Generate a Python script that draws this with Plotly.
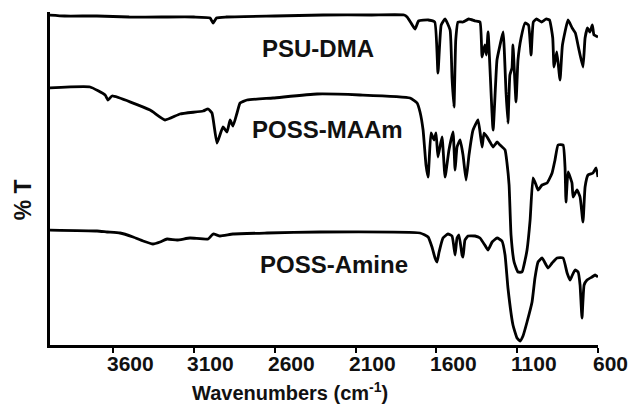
import plotly.graph_objects as go

# Wavenumbers (cm-1) and %T (arbitrary offset units)
psu_wn = [4000, 3900, 3700, 3500, 3300, 3100, 3000, 2981, 2960, 2900, 2600, 2300, 2000, 1800,
          1781, 1760, 1732, 1710, 1650, 1610, 1590, 1570, 1546, 1515, 1503, 1491, 1480, 1466,
          1435, 1400, 1360, 1330, 1317, 1300, 1290, 1280, 1249, 1225, 1206, 1187, 1169, 1157,
          1145, 1132, 1126, 1107, 1095, 1076, 1051, 1030, 1014, 1000, 980, 950, 920, 900, 880,
          872, 855, 835, 820, 785, 760, 740, 720, 693, 680, 665, 650, 635, 625, 612, 600]
psu_t = [330, 329, 329, 328, 328, 328, 327, 322, 327, 328, 329, 330, 330, 330,
         328, 323, 316, 324, 325, 323, 272, 320, 326, 315, 267, 238, 305, 323,
         323, 326, 324, 323, 288, 300, 290, 313, 215, 285, 300, 313, 253, 222,
         270, 277, 300, 243, 285, 307, 322, 320, 290, 323, 326, 323, 326, 325, 307,
         278, 293, 265, 300, 325, 317, 312, 297, 278, 307, 317, 313, 320, 310, 309, 308]

maam_wn = [4000, 3742, 3649, 3631, 3606, 3371, 3278, 3186, 3043, 3012, 2988, 2957, 2920, 2895,
           2876, 2858, 2833, 2814, 2771, 2610, 2338, 2072, 1763, 1719, 1701, 1682, 1664, 1651,
           1633, 1614, 1602, 1590, 1565, 1546, 1522, 1497, 1484, 1472, 1453, 1435, 1416, 1398,
           1373, 1342, 1317, 1305, 1286, 1268, 1249, 1224, 1206, 1175, 1163, 1150, 1138, 1119,
           1095, 1070, 1051, 1039, 1020, 1002, 983, 971, 946, 915, 884, 866, 847, 816, 804, 798,
           785, 761, 754, 730, 711, 693, 680, 662, 631, 612, 600]
maam_t = [257, 258, 250, 245, 249, 235, 225, 231, 234, 236, 232, 202, 218, 213,
          225, 219, 232, 242, 245, 247, 251, 250, 247, 242, 233, 215, 180, 168,
          212, 205, 212, 188, 208, 168, 195, 213, 175, 198, 205, 190, 165, 190,
          215, 225, 198, 212, 208, 203, 198, 203, 200, 195, 182, 160, 110, 83,
          73, 73, 85, 95, 125, 167, 160, 155, 160, 162, 172, 185, 200, 200, 178, 143,
          173, 162, 148, 155, 148, 123, 158, 170, 172, 177, 168]

amine_wn = [4000, 3699, 3637, 3557, 3476, 3414, 3353, 3309, 3266, 3204, 3124, 3012, 2981, 2938,
            2858, 2647, 2320, 1701, 1651, 1627, 1608, 1596, 1583, 1559, 1528, 1503, 1484, 1472,
            1460, 1441, 1435, 1423, 1404, 1361, 1330, 1293, 1280, 1255, 1224, 1194, 1175, 1157,
            1126, 1101, 1082, 1064, 1039, 1008, 990, 971, 946, 909, 884, 853, 816, 791, 773, 761,
            742, 723, 711, 699, 686, 668, 637, 618, 600]
amine_t = [115, 114, 113, 112, 108, 104, 101, 103, 106, 105, 107, 106, 111, 109,
           111, 112, 113, 112, 108, 98, 87, 83, 93, 107, 111, 109, 90, 107,
           110, 90, 88, 105, 109, 109, 107, 98, 95, 103, 107, 104, 90, 57,
           20, 7, 4, 9, 23, 43, 67, 83, 87, 77, 82, 87, 87, 72, 65, 69,
           75, 73, 60, 27, 60, 65, 68, 70, 68]

series = [("PSU-DMA", psu_wn, psu_t), ("POSS-MAAm", maam_wn, maam_t), ("POSS-Amine", amine_wn, amine_t)]
label_pos = {"PSU-DMA": (2335, 297), "POSS-MAAm": (2273, 216), "POSS-Amine": (2233, 81)}
tick_vals = [3600, 3100, 2600, 2100, 1600, 1100, 600]
tick_text = ["3600", "3100", "2600", "2100", "1600", "1100", "600"]

FONT = "Liberation Sans, Arial"

fig = go.Figure()
for name, wn, t in series:
    fig.add_trace(go.Scatter(x=wn, y=t, mode="lines", name=name,
                             line=dict(color="black", width=2.8, shape="spline", smoothing=0.4)))

annotations = []
for name, (lx, ly) in label_pos.items():
    annotations.append(dict(x=lx, y=ly, xref="x", yref="y", text="<b>%s</b>" % name, showarrow=False,
                            xanchor="center", yanchor="middle",
                            font=dict(family=FONT, size=24, color="#111")))
# tick labels (drawn offset to the right of their ticks, as in the original)
for v, s in zip(tick_vals, tick_text):
    annotations.append(dict(x=v, y=0, xref="x", yref="paper", text="<b>%s</b>" % s, showarrow=False,
                            xanchor="center", yanchor="middle",
                            xshift=12 if v == 600 else 17, yshift=-18,
                            font=dict(family=FONT, size=21, color="#111")))
annotations.append(dict(x=0.438, y=-0.141, xref="paper", yref="paper",
                        xanchor="center", yanchor="middle",
                        text="<b>Wavenumbers (cm<sup>-1</sup>)</b>", showarrow=False,
                        font=dict(family=FONT, size=20, color="#111")))
annotations.append(dict(x=-0.049, y=0.435, xref="paper", yref="paper", text="<b>% T</b>",
                        xanchor="center", yanchor="middle",
                        textangle=-90, showarrow=False,
                        font=dict(family=FONT, size=23, color="#111")))

fig.update_layout(
    width=631, height=410,
    margin=dict(l=50, r=33, t=12, b=65),
    paper_bgcolor="white", plot_bgcolor="white",
    showlegend=False,
    annotations=annotations,
    xaxis=dict(range=[3990, 600], tickvals=tick_vals, showticklabels=False,
               showline=True, linecolor="black", linewidth=2.5, showgrid=False, zeroline=False,
               ticks="outside", ticklen=5, tickwidth=2, tickcolor="black"),
    yaxis=dict(range=[0, 333], showline=True, linecolor="black", linewidth=2.5, showgrid=False,
               zeroline=False, showticklabels=False, ticks=""),
)

fig.write_html("out.html")
